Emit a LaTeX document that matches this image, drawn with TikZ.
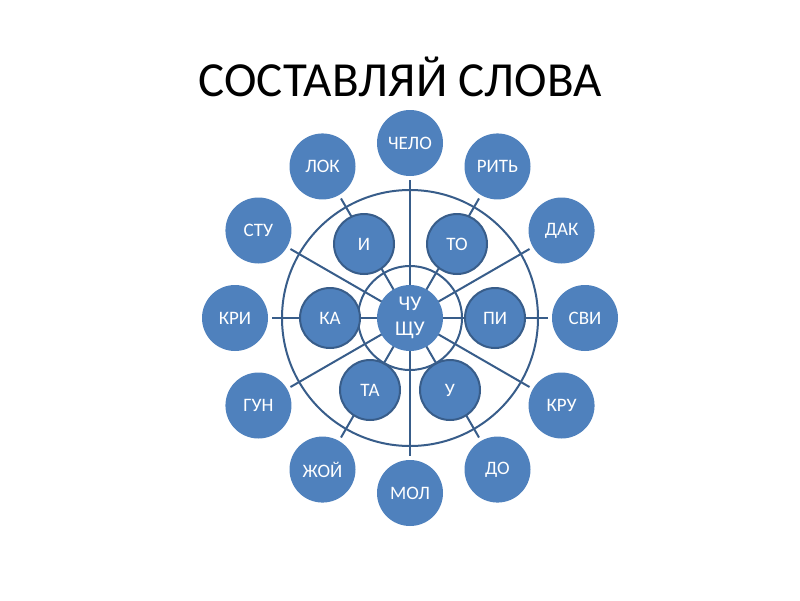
\documentclass[tikz,border=0pt]{standalone}
\usepackage{fontspec}
\setmainfont{Carlito}
\usetikzlibrary{calc}
\definecolor{fillb}{HTML}{4F81BD}
\definecolor{lineb}{HTML}{385D8A}
\pgfdeclarelayer{bg}
\pgfsetlayers{bg,main}
\tikzset{
  outer/.style={circle,fill=fillb,minimum size=66pt,inner sep=0pt,outer sep=0pt,text=white,font=\fontsize{19}{22}\selectfont},
  inner/.style={circle,fill=fillb,draw=lineb,line width=2pt,minimum size=60pt,inner sep=0pt,outer sep=0pt,text=white,font=\fontsize{19}{22}\selectfont},
  hub/.style={circle,fill=fillb,minimum size=66pt,inner sep=0pt,outer sep=0pt,text=white,align=center,font=\fontsize{21}{25}\selectfont},
  spoke/.style={draw=lineb,line width=2pt},
  ring/.style={draw=lineb,line width=2pt},
  title/.style={font=\fontsize{49}{56}\selectfont,text=black}
}
\begin{document}
\begin{tikzpicture}[x=1pt,y=-1pt]
\useasboundingbox (0,0) rectangle (800,600);
\node[title] (t) at (400,77) {СОСТАВЛЯЙ СЛОВА};
\node[hub] (c) at (410,318) {ЧУ\\ЩУ};
\coordinate (O) at (410,318);
% outer circles
\foreach \a/\w/\n in {0/СВИ/o0,30/КРУ/o1,60/ДО/o2,90/МОЛ/o3,120/ЖОЙ/o4,150/ГУН/o5,180/КРИ/o6,210/СТУ/o7,240/ЛОК/o8,270/ЧЕЛО/o9,300/РИТЬ/o10,330/ДАК/o11}
  \node[outer] (\n) at ($(O)+(\a:175)$) {\w};
% inner circles
\node[inner] (i1) at (364,244) {И};
\node[inner] (i2) at (457,244) {ТО};
\node[inner] (i3) at (330,318) {КА};
\node[inner] (i4) at (495,318) {ПИ};
\node[inner] (i5) at (370,390) {ТА};
\node[inner] (i6) at (450,390) {У};
\begin{pgfonlayer}{bg}
  \fill[white] (0,0) rectangle (800,600);
  \draw[ring] (c.center) circle[radius=128];
  \draw[ring] (c.center) circle[radius=52];
  \foreach \n in {o0,o1,o2,o3,o4,o5,o6,o7,o8,o9,o10,o11}
    \draw[spoke,shorten >=4pt] (c.center) -- (\n);
\end{pgfonlayer}
\end{tikzpicture}
\end{document}
